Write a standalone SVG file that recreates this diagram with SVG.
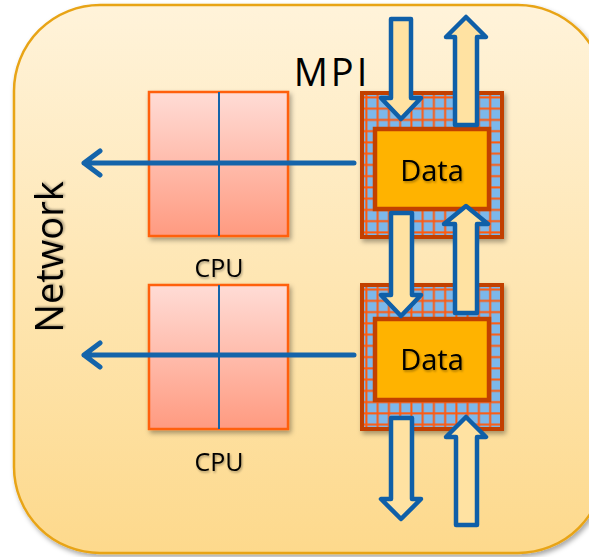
<svg xmlns="http://www.w3.org/2000/svg" width="589" height="557" viewBox="0 0 589 557">
<defs>
<linearGradient id="bg" x1="0" y1="0" x2="0" y2="1">
<stop offset="0" stop-color="#FFF3DA"/>
<stop offset="1" stop-color="#FDD98C"/>
</linearGradient>
<linearGradient id="cpu" x1="0" y1="0" x2="0" y2="1">
<stop offset="0" stop-color="#FFDCD6"/>
<stop offset="1" stop-color="#FF9A80"/>
</linearGradient>
<pattern id="grid" patternUnits="userSpaceOnUse" x="360.4" y="91.4" width="11.25" height="11.25">
<rect width="11.25" height="11.25" fill="#7BB8EB"/>
<rect x="5" y="0" width="2" height="11.25" fill="#FF5A10"/>
<rect x="0" y="5" width="11.25" height="2" fill="#FF5A10"/>
</pattern>
<pattern id="grid2" patternUnits="userSpaceOnUse" x="360.4" y="283.6" width="11.25" height="11.25">
<rect width="11.25" height="11.25" fill="#7BB8EB"/>
<rect x="5" y="0" width="2" height="11.25" fill="#FF5A10"/>
<rect x="0" y="5" width="11.25" height="2" fill="#FF5A10"/>
</pattern>
<filter id="sh" x="-10%" y="-10%" width="130%" height="130%">
<feDropShadow dx="2" dy="3" stdDeviation="2.5" flood-color="#000" flood-opacity="0.35"/>
</filter>
<filter id="tsh" x="-10%" y="-10%" width="130%" height="130%">
<feDropShadow dx="1" dy="1.5" stdDeviation="1" flood-color="#000" flood-opacity="0.35"/>
</filter>
</defs>
<style>
.txt{font-family:"Open Sans","Liberation Sans",sans-serif;fill:#000}
.cpu{fill:url(#cpu);stroke:#FF6010;stroke-width:2.5}
.div{stroke:#1464AA;stroke-width:2}
.grid{stroke:#C24100;stroke-width:4}
.data{fill:#FFB300;stroke:#C24100;stroke-width:4.5}
.blk{fill:#FFE2A2;stroke:#0F5FA8;stroke-width:4.5;stroke-linejoin:round}
.net{fill:none;stroke:#1464AA;stroke-width:5;stroke-linecap:round;stroke-linejoin:round}
</style>
<g id="network-box">
<rect x="14" y="5" width="590" height="548" rx="86" ry="86" fill="url(#bg)" stroke="#E8A417" stroke-width="2.5" filter="url(#sh)"/>
<text class="txt" transform="translate(63,257) rotate(-90)" text-anchor="middle" font-size="38" filter="url(#tsh)">Network</text>
</g>
<g id="mpi-label">
<text class="txt" x="332" y="86" text-anchor="middle" font-size="38" letter-spacing="3">MPI</text>
</g>
<g id="cpu1">
<rect class="cpu" x="149" y="92" width="139" height="144" filter="url(#sh)"/>
<line class="div" x1="219" y1="92" x2="219" y2="236"/>
<text class="txt" x="219" y="277" text-anchor="middle" font-size="25" filter="url(#tsh)">CPU</text>
</g>
<g id="cpu2">
<rect class="cpu" x="149" y="285" width="139" height="144" filter="url(#sh)"/>
<line class="div" x1="219" y1="285" x2="219" y2="429"/>
<text class="txt" x="219" y="471" text-anchor="middle" font-size="25" filter="url(#tsh)">CPU</text>
</g>
<g id="mem1">
<rect class="grid" x="362" y="93" width="140" height="144" fill="url(#grid)" filter="url(#sh)"/>
<rect class="data" x="375" y="129" width="114" height="80"/>
<text class="txt" x="432" y="181" text-anchor="middle" font-size="29" filter="url(#tsh)">Data</text>
</g>
<g id="mem2">
<rect class="grid" x="362" y="285" width="140" height="144" fill="url(#grid2)" filter="url(#sh)"/>
<rect class="data" x="375" y="319" width="114" height="81"/>
<text class="txt" x="432" y="370" text-anchor="middle" font-size="29" filter="url(#tsh)">Data</text>
</g>
<g id="connectors">
<path class="net" d="M354 163 H84 M100 151 L84 163 L100 175"/>
<path class="net" d="M354 355 H84 M100 343 L84 355 L100 367"/>
<path class="blk" d="M391 19 H411 V98 H421 L401 119 L381 98 H391 Z"/>
<path class="blk" d="M455 125 V37 H446 L466 17 L486 37 H477 V125 Z"/>
<path class="blk" d="M391 213 H412 V295 H421 L401 316 L381 295 H391 Z"/>
<path class="blk" d="M455 313 V224 H444 L466 206 L488 224 H477 V313 Z"/>
<path class="blk" d="M391 418 H412 V499 H421 L401 519 L381 499 H391 Z"/>
<path class="blk" d="M456 525 V437 H446 L466 417 L486 437 H477 V525 Z"/>
</g>
</svg>
